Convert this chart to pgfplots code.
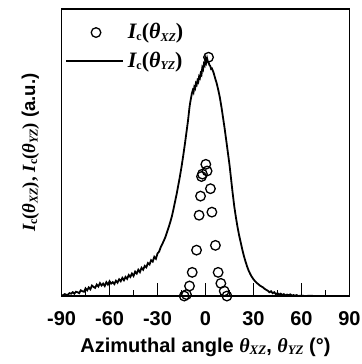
\documentclass[border=0pt]{standalone}
\usepackage{fontspec}
\setmainfont{Liberation Sans}
\newfontfamily\tnr{Liberation Serif}
\usepackage{pgfplots}
\pgfplotsset{compat=1.18}
\pgfplotsset{
  mycirc/.style={legend image code/.code={\draw[##1] plot coordinates {(15pt,0pt)};}},
  myline/.style={legend image code/.code={\draw[##1] (0pt,0pt) -- (28.5pt,0pt);}},
}
\newcommand{\Ic}{{\tnr\bfseries\itshape I}{\tnr\bfseries\fontsize{6}{7}\selectfont\raisebox{-0.35ex}{c}}}
\newcommand{\tht}[1]{{\tnr\bfseries\itshape θ}{\tnr\bfseries\itshape\fontsize{6}{7}\selectfont\raisebox{-0.45ex}{#1}}}
\newcommand{\thx}[1]{{\tnr\bfseries\itshape θ}{\tnr\bfseries\itshape\fontsize{6.5}{8}\selectfont\raisebox{-0.45ex}{#1}}}
\begin{document}
\begin{tikzpicture}
\begin{axis}[
  name=ax,
  scale only axis,
  width=144pt, height=143.5pt,
  xmin=-90, xmax=90, ymin=0, ymax=1.2,
  axis line style={line width=0.9pt},
  xtick={-90,-60,...,90},
  minor xtick={-75,-45,-15,15,45,75},
  ytick=\empty,
  xtick pos=bottom,
  tick align=inside,
  major tick length=6.5pt, minor tick length=3pt,
  every tick/.style={black, line width=0.7pt},
  /pgf/number format/assume math mode=true,
  xticklabel style={font=\fontsize{10}{11}\selectfont\bfseries, yshift=-4.3pt},
  xlabel={\fontsize{10}{12}\selectfont\bfseries Azimuthal angle \thx{XZ}, \thx{YZ} (°)},
  xlabel style={yshift=1pt},
  ylabel={\fontsize{9.3}{12}\selectfont\Ic{\tnr\bfseries(}\tht{XZ}{\tnr\bfseries)}{\tnr\bfseries,} \Ic{\tnr\bfseries(}\tht{YZ}{\tnr\bfseries)} \bfseries(a.u.)},
  ylabel style={yshift=7.7pt},
  legend style={draw=none, fill=none, at={(rel axis cs:0.011,0.966)}, anchor=north west,
    font=\fontsize{11}{12}\selectfont, row sep=1pt, inner sep=0pt},
  legend cell align=left,
]
\addplot[only marks, mark=o, mark size=2.4pt, mark options={fill=white, draw=black, line width=0.65pt}, mycirc]
coordinates {
(1.9,0.999) (0.2,0.551) (1.0,0.523) (-2.5,0.50) (-1.9,0.51) (3.1,0.449) (-3.1,0.418)
(4.0,0.351) (-4.0,0.338) (6.2,0.212) (-5.6,0.192) (7.9,0.099) (-8.3,0.099)
(9.6,0.053) (-10.0,0.042) (11.7,0.021) (-11.9,0.006) (-13.3,0.0) (13.4,0.0)
};
\addlegendentry{\Ic{\tnr\bfseries(}\tht{XZ}{\tnr\bfseries)}}
\addplot[black, line width=0.9pt, mark=none, myline]
coordinates {
(-90,0.002) (-89,0.004) (-88,0.008) (-87,0.005) (-86,0.006) (-85,0.012) (-84,0.010) (-83,0.016) (-82,0.010)
(-81,0.018) (-80,0.016) (-79,0.012) (-78,0.024) (-77,0.020) (-76,0.018) (-75,0.032) (-74,0.024)
(-73,0.036) (-72,0.028) (-71,0.044) (-70,0.038) (-69,0.034) (-68,0.048) (-67,0.040)
(-66,0.054) (-65,0.044) (-64,0.052) (-63,0.042) (-62,0.058) (-61,0.048) (-60,0.062)
(-59,0.052) (-58,0.058) (-57,0.050) (-56,0.064) (-55,0.056) (-54,0.070) (-53,0.062)
(-52,0.076) (-51,0.066) (-50,0.080) (-49,0.072) (-48,0.088) (-47,0.080) (-46,0.094)
(-45,0.084) (-44,0.102) (-43,0.094) (-42,0.110) (-41,0.100) (-40,0.118) (-39,0.110)
(-38,0.126) (-37,0.120) (-36,0.138) (-35,0.132) (-34,0.150) (-33,0.144) (-32,0.164)
(-31,0.156) (-30,0.178) (-29,0.186) (-28,0.204) (-27,0.218) (-26,0.232) (-25,0.248)
(-24,0.268) (-23,0.288) (-22,0.310) (-21,0.334) (-20,0.364) (-19,0.396) (-18,0.428)
(-17,0.464) (-16,0.500) (-15,0.540) (-14,0.584) (-13,0.630) (-12,0.680) (-11,0.730)
(-10,0.790) (-9.5,0.812) (-9,0.830) (-8.5,0.848) (-8,0.860) (-7.5,0.852) (-7,0.874)
(-6.5,0.868) (-6,0.890) (-5.5,0.884) (-5,0.902) (-4.5,0.896) (-4,0.918) (-3.5,0.912)
(-3,0.932) (-2.5,0.926) (-2,0.955) (-1.5,0.948) (-1,0.972) (-0.5,0.966) (0,0.992)
(0.5,0.978) (1,0.994) (1.5,0.980) (2,0.976) (2.5,0.966) (3,0.962) (3.5,0.950) (4,0.952)
(5,0.936) (6,0.912) (7,0.890) (8,0.862) (9,0.830) (10,0.790) (11,0.745) (12,0.700)
(13,0.650) (14,0.600) (15,0.550) (16,0.490) (17,0.430) (18,0.375) (19,0.330) (20,0.290)
(21,0.255) (22,0.225) (23,0.195) (24,0.168) (25,0.145) (26,0.124) (27,0.106) (28,0.092)
(29,0.080) (30,0.070) (31,0.062) (32,0.055) (33,0.050) (34,0.044) (35,0.040) (36,0.036)
(37,0.030) (38,0.026) (39,0.022) (40,0.016) (41,0.020) (42,0.012) (43,0.016) (44,0.008)
(45,0.012) (46,0.006) (47,0.010) (48,0.004) (49,0.008) (50,0.002) (51,0.006) (52,0.003)
(53,0.007) (54,0.002) (55,0.004) (56,0.001) (57,0.004) (58,0.000) (60,0.002) (62,0.000)
(65,0.001) (70,0.000) (90,0.000)
};
\addlegendentry{\Ic{\tnr\bfseries(}\tht{YZ}{\tnr\bfseries)}}
\end{axis}
\pgfresetboundingbox
\path[use as bounding box] ([xshift=-30.8pt,yshift=-34pt]ax.south west) rectangle ([xshift=6pt,yshift=4.6pt]ax.north east);
\end{tikzpicture}
\end{document}
